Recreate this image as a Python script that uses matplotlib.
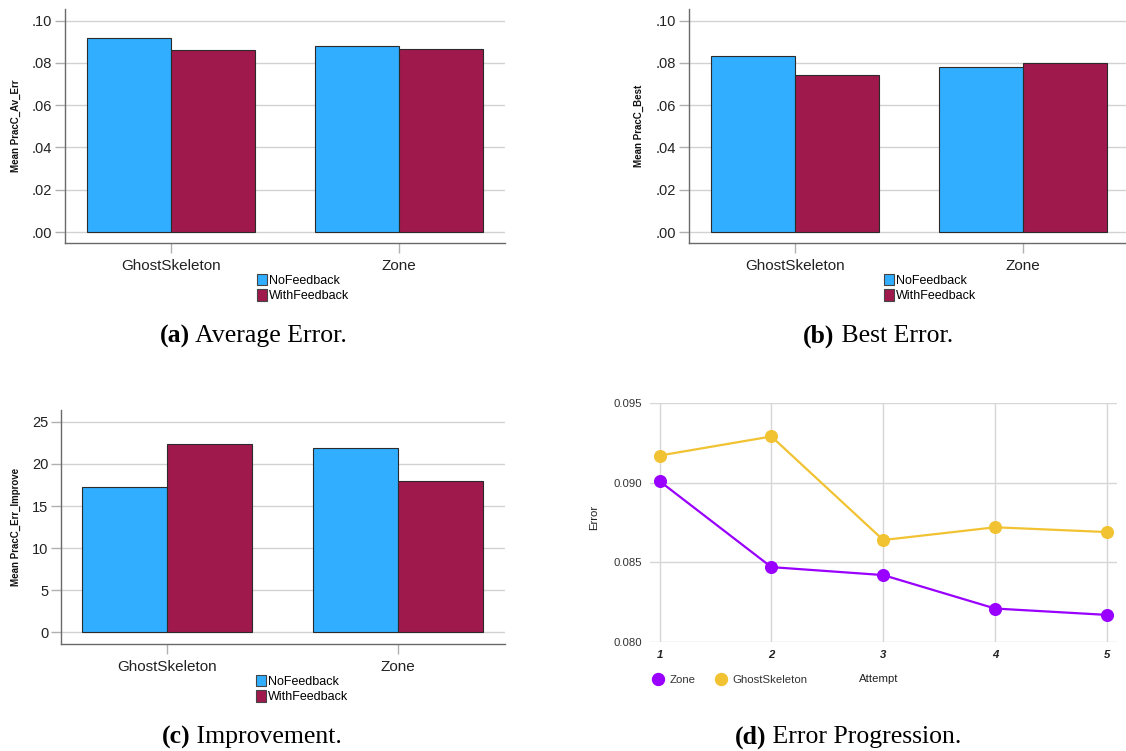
import matplotlib
matplotlib.use("Agg")
import matplotlib.pyplot as plt
from matplotlib.patches import Patch
from matplotlib.lines import Line2D
from matplotlib.offsetbox import TextArea, HPacker, AnchoredOffsetbox
import numpy as np

# ---------------- data ----------------
categories = ["GhostSkeleton", "Zone"]
groups = ["NoFeedback", "WithFeedback"]

avg_err_nofb = [0.0918, 0.0882]
avg_err_withfb = [0.0860, 0.0865]

best_err_nofb = [0.0833, 0.0782]
best_err_withfb = [0.0744, 0.0800]

improve_nofb = [17.2, 21.9]
improve_withfb = [22.4, 18.0]

attempts = [1, 2, 3, 4, 5]
zone_err = [0.0901, 0.0847, 0.0842, 0.0821, 0.0817]
ghost_err = [0.0917, 0.0929, 0.0864, 0.0872, 0.0869]

err_ticks = [0.00, 0.02, 0.04, 0.06, 0.08, 0.10]
err_ticklabels = [".00", ".02", ".04", ".06", ".08", ".10"]
imp_ticks = [0, 5, 10, 15, 20, 25]
imp_ticklabels = ["0", "5", "10", "15", "20", "25"]
prog_ticks = [0.080, 0.085, 0.090, 0.095]
prog_ticklabels = ["0.080", "0.085", "0.090", "0.095"]

captions = [("(a)", " Average Error."), ("(b)", " Best Error."),
            ("(c)", " Improvement."), ("(d)", " Error Progression.")]

# ---------------- style ----------------
W, H = 1126, 751
BLUE = "#31AEFF"
MAROON = "#A0194D"
PURPLE = "#9900FF"
YELLOW = "#F1C232"
SANS = ["Liberation Sans", "DejaVu Sans"]
SERIF = ["Liberation Serif", "DejaVu Serif"]
plt.rcParams["font.family"] = SANS

fig = plt.figure(figsize=(W / 100, H / 100), dpi=100)


def fx(px):
    return px / W


def fy(py):
    return 1 - py / H


def add_axes(left, top, right, bottom):
    return fig.add_axes([fx(left), fy(bottom), fx(right) - fx(left), fy(top) - fy(bottom)])


def bar_panel(ax, v1, v2, ylabel, ticks, ticklabels, ylim, xlim, label_x):
    x = np.arange(len(categories))
    w = 0.369
    ax.bar(x - w / 2, v1, w, color=BLUE, edgecolor="#2b2b2b", linewidth=0.8, zorder=3)
    ax.bar(x + w / 2, v2, w, color=MAROON, edgecolor="#2b2b2b", linewidth=0.8, zorder=3)
    ax.set_xlim(*xlim)
    ax.set_ylim(*ylim)
    ax.set_yticks(ticks)
    ax.set_yticklabels(ticklabels)
    ax.set_xticks(x)
    ax.set_xticklabels(categories)
    ax.yaxis.grid(True, color="#d2d2d2", linewidth=1.0, zorder=0)
    ax.set_axisbelow(True)
    for s in ["top", "right"]:
        ax.spines[s].set_visible(False)
    for s in ["left", "bottom"]:
        ax.spines[s].set_color("#6a6a6a")
        ax.spines[s].set_linewidth(1.0)
    ax.tick_params(axis="y", length=7.2, width=1.0, color="#b0b0b0", pad=2,
                   labelsize=10.5, labelcolor="#222222")
    ax.tick_params(axis="x", length=7.2, width=1.0, color="#b0b0b0", pad=4,
                   labelsize=11, labelcolor="#222222")
    ax.set_ylabel(ylabel, fontsize=7, fontweight="bold", color="#111111")
    ax.yaxis.set_label_coords(label_x, 0.5)


def bar_legend(left_px, top_px):
    handles = [Patch(facecolor=BLUE, edgecolor="#444444", linewidth=0.8, label=groups[0]),
               Patch(facecolor=MAROON, edgecolor="#444444", linewidth=0.8, label=groups[1])]
    fig.legend(handles=handles, loc="upper left",
               bbox_to_anchor=(fx(left_px), fy(top_px)), frameon=False,
               borderpad=0, borderaxespad=0, handlelength=0.8, handleheight=1.0,
               handletextpad=0.15, labelspacing=0.2, fontsize=9)


# (a)
ax_a = add_axes(65, 9, 505, 243)
bar_panel(ax_a, avg_err_nofb, avg_err_withfb, "Mean PracC_Av_Err",
          err_ticks, err_ticklabels, (-0.0052, 0.1055), (-0.465, 1.465), -0.10)
bar_legend(257, 274)

# (b)
ax_b = add_axes(689, 9, 1126, 243)
bar_panel(ax_b, best_err_nofb, best_err_withfb, "Mean PracC_Best",
          err_ticks, err_ticklabels, (-0.0052, 0.1055), (-0.466, 1.454), -0.102)
bar_legend(884, 274)

# (c)
ax_c = add_axes(61, 410, 505, 644)
bar_panel(ax_c, improve_nofb, improve_withfb, "Mean PracC_Err_Improve",
          imp_ticks, imp_ticklabels, (-1.37, 26.39), (-0.461, 1.466), -0.09)
bar_legend(256, 675)

# (d)
ax_d = add_axes(650, 403, 1117, 642)
ax_d.plot(attempts, zone_err, color=PURPLE, lw=1.6, marker="o", ms=8.4, clip_on=False, zorder=4)
ax_d.plot(attempts, ghost_err, color=YELLOW, lw=1.6, marker="o", ms=8.4, clip_on=False, zorder=3)
ax_d.set_xlim(0.915, 5.089)
ax_d.set_ylim(0.080, 0.095)
ax_d.set_xticks(attempts)
ax_d.set_xticklabels([str(a) for a in attempts])
ax_d.set_yticks(prog_ticks)
ax_d.set_yticklabels(prog_ticklabels)
ax_d.grid(True, color="#d6d6d6", linewidth=1.0)
ax_d.set_axisbelow(True)
for s in ax_d.spines.values():
    s.set_visible(False)
ax_d.tick_params(axis="both", length=0)
ax_d.tick_params(axis="y", pad=6, labelsize=8.2, labelcolor="#333333")
ax_d.tick_params(axis="x", pad=6, labelsize=8.2, labelcolor="#222222")
for t in ax_d.get_xticklabels():
    t.set_fontweight("bold")
    t.set_fontstyle("italic")
ax_d.set_ylabel("Error", fontsize=8.2, color="#222222")
ax_d.yaxis.set_label_coords(-0.11, 0.52)

leg_handles = [Line2D([], [], color=PURPLE, marker="o", ms=8.6, lw=0, label="Zone"),
               Line2D([], [], color=YELLOW, marker="o", ms=8.6, lw=0, label="GhostSkeleton")]
fig.legend(handles=leg_handles, loc="center left", bbox_to_anchor=(fx(651), fy(680)),
           ncol=2, frameon=False, borderpad=0, borderaxespad=0, handlelength=1.2,
           handletextpad=0.45, columnspacing=1.6, fontsize=8.2, labelcolor="#333333")
fig.text(fx(878.5), fy(679), "Attempt", ha="center", va="center", fontsize=8.2, color="#222222")


# captions
def caption(bold, rest, cx, cy):
    tp_b = dict(family=SERIF, size=18.5, weight="bold", color="black")
    tp_r = dict(family=SERIF, size=18.5, color="black")
    box = HPacker(children=[TextArea(bold, textprops=tp_b), TextArea(rest, textprops=tp_r)],
                  align="baseline", pad=0, sep=0)
    anch = AnchoredOffsetbox(loc="center", child=box, pad=0, frameon=False, borderpad=0,
                             bbox_to_anchor=(fx(cx), fy(cy)), bbox_transform=fig.transFigure)
    fig.add_artist(anch)


caption(*captions[0], 253, 336)
caption(*captions[1], 878, 336)
caption(*captions[2], 252, 737)
caption(*captions[3], 848, 737)

fig.savefig("out.png", dpi=100)
